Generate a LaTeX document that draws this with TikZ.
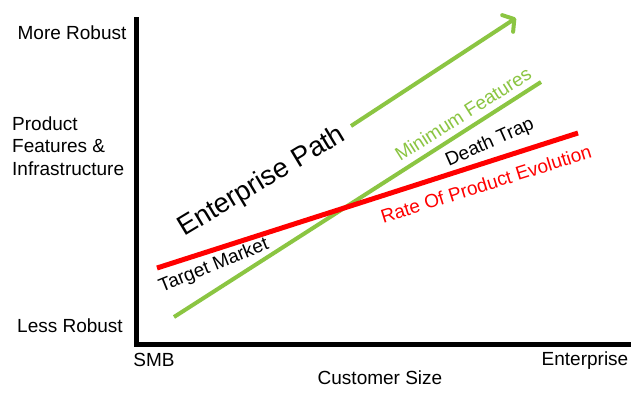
\documentclass[tikz,border=0pt]{standalone}
\usepackage{fontspec}
\setmainfont{Liberation Sans}
\usetikzlibrary{arrows.meta}
\definecolor{featgreen}{RGB}{139,197,66}
\definecolor{raterred}{RGB}{255,0,0}

\begin{document}
\begin{tikzpicture}[x=1pt,y=-1pt,>={Straight Barb[length=8pt,width=20pt,round]},
  lbl/.style={font=\fontsize{19}{22.5}\selectfont, inner sep=0pt},
  axis/.style={line width=5pt},
  trend/.style={line width=4pt}]
\useasboundingbox[fill=white] (0,0) rectangle (640,400);
% axes
\coordinate (origin) at (136,344);
\coordinate (ytop) at (136,17);
\coordinate (xend) at (631,344);
\draw[axis] (ytop) -- (origin) -- (xend);
\node[lbl] (more) at (72,33) {More Robust};
\node[lbl, align=left, anchor=west] (features) at (12,146) {Product\\Features \&\\Infrastructure};
\node[lbl] (less) at (70,326) {Less Robust};
\node[lbl] (smb) at (154,360) {SMB};
\node[lbl] (enterprise) at (585,361) {Enterprise};
\node[lbl] (custsize) at (380,378) {Customer Size};
% trend lines
\coordinate (pathtail) at (351,126);
\coordinate (pathtip) at (516,18);
\coordinate (minstart) at (174,317);
\coordinate (minend) at (541,82);
\coordinate (ratestart) at (157,268);
\coordinate (rateend) at (578,133);
\draw[trend, featgreen, ->] (pathtail) -- (pathtip);
\draw[trend, featgreen] (minstart) -- (minend);
\draw[line width=5pt, raterred] (ratestart) -- (rateend);
% labels on the chart
\node[lbl, font=\fontsize{27.5}{30}\selectfont, rotate=31] (entpath) at (262,182) {Enterprise Path};
\node[lbl, rotate=22] (target) at (214,266) {Target Market};
\node[lbl, featgreen, rotate=32.5] (minfeat) at (463,114) {Minimum Features};
\node[lbl, rotate=24] (death) at (490,143) {Death Trap};
\node[lbl, raterred, rotate=17.5] (rate) at (486,184) {Rate Of Product Evolution};
\end{tikzpicture}
\end{document}
